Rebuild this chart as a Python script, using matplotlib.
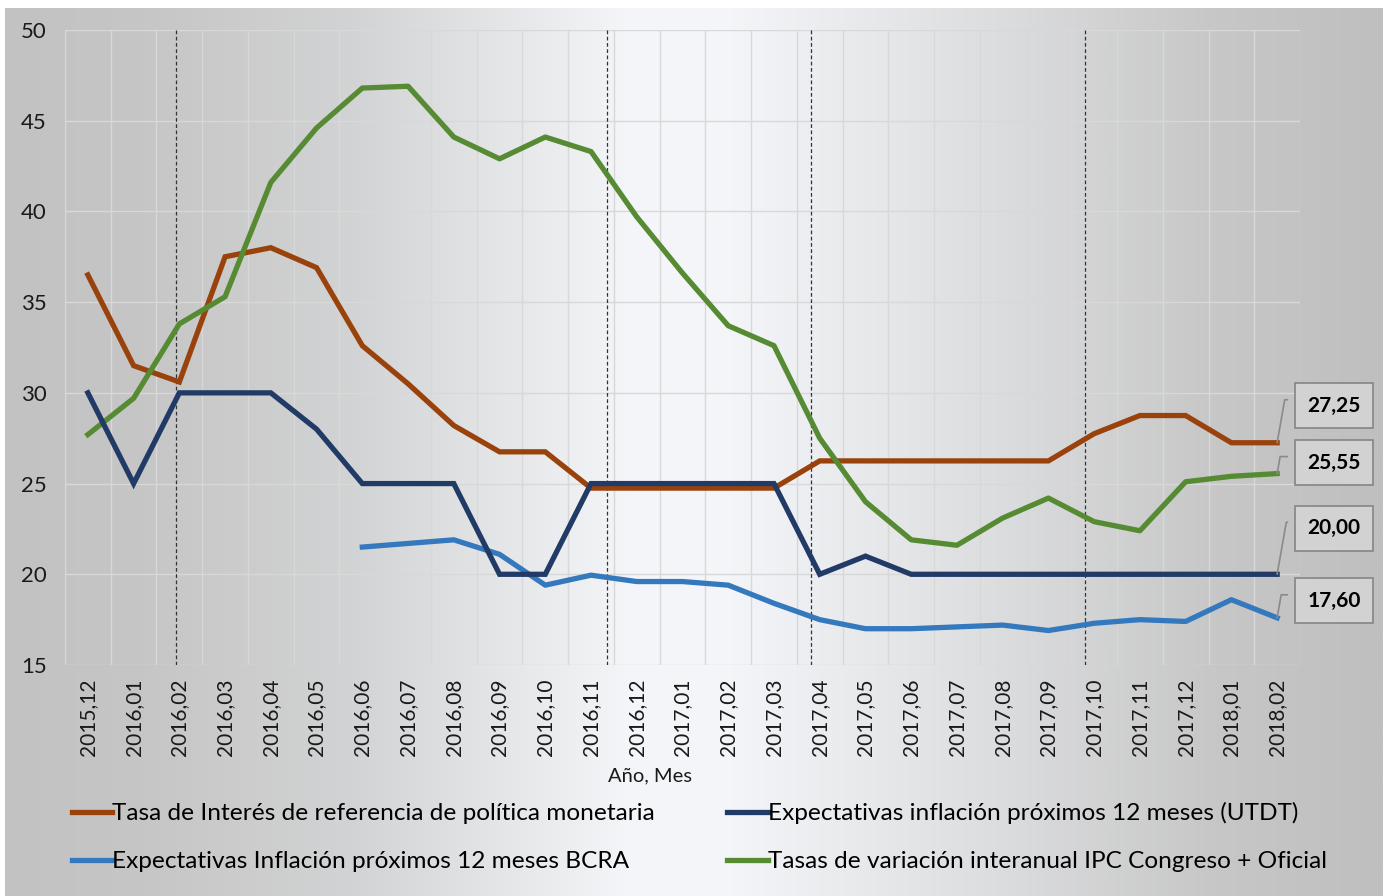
import numpy as np
import matplotlib
matplotlib.use("Agg")
import matplotlib.pyplot as plt
from matplotlib.colors import LinearSegmentedColormap

plt.rcParams["font.family"] = ["Lato", "DejaVu Sans"]

# =============================================================================
# DATA
# =============================================================================

meses = [
    "2015,12", "2016,01", "2016,02", "2016,03", "2016,04", "2016,05",
    "2016,06", "2016,07", "2016,08", "2016,09", "2016,10", "2016,11",
    "2016,12", "2017,01", "2017,02", "2017,03", "2017,04", "2017,05",
    "2017,06", "2017,07", "2017,08", "2017,09", "2017,10", "2017,11",
    "2017,12", "2018,01", "2018,02",
]

tasa_politica = [36.5, 31.5, 30.6, 37.5, 38.0, 36.9, 32.6, 30.5, 28.2, 26.75,
                 26.75, 24.75, 24.75, 24.75, 24.75, 24.75, 26.25, 26.25, 26.25,
                 26.25, 26.25, 26.25, 27.75, 28.75, 28.75, 27.25, 27.25]

expect_utdt = [30, 25, 30, 30, 30, 28, 25, 25, 25, 20, 20, 25, 25, 25, 25, 25,
               20, 21, 20, 20, 20, 20, 20, 20, 20, 20, 20]

expect_bcra = [np.nan] * 6 + [21.5, 21.7, 21.9, 21.1, 19.4, 19.95, 19.6, 19.6,
                              19.4, 18.4, 17.5, 17.0, 17.0, 17.1, 17.2, 16.9,
                              17.3, 17.5, 17.4, 18.6, 17.6]

ipc_interanual = [27.7, 29.7, 33.8, 35.3, 41.6, 44.6, 46.8, 46.9, 44.1, 42.9,
                  44.1, 43.3, 39.7, 36.6, 33.7, 32.6, 27.5, 24.0, 21.9, 21.6,
                  23.1, 24.2, 22.9, 22.4, 25.1, 25.4, 25.55]

# vertical dashed markers (position in category units)
cortes = [1.92, 11.36, 15.82, 21.81]

etiquetas = {
    "tasa": "Tasa de Interés de referencia de política monetaria",
    "utdt": "Expectativas inflación próximos 12 meses (UTDT)",
    "bcra": "Expectativas Inflación próximos 12 meses BCRA",
    "ipc": "Tasas de variación interanual IPC Congreso + Oficial",
}

COLORS = {
    "tasa": "#9a420c",
    "utdt": "#213a66",
    "bcra": "#3479be",
    "ipc": "#568a33",
    "grid": "#d8d8d8",
    "text": "#1a1a1a",
}

# =============================================================================
# FIGURE
# =============================================================================

W, H = 1383, 896
fig = plt.figure(figsize=(W / 100, H / 100), dpi=100)
fig.patch.set_facecolor("white")

# horizontal gradient background (gray edges, light centre)
bg = fig.add_axes([5 / W, 0, 1 - 5 / W, 1 - 8 / H], zorder=-10)
grad_cmap = LinearSegmentedColormap.from_list(
    "bg",
    [(0.0, "#c2c2c2"), (0.1, "#c6c6c6"), (0.25, "#d2d3d4"),
     (0.45, "#f3f5f8"), (0.52, "#f4f6f9"), (0.72, "#dcdddf"),
     (0.88, "#c7c7c7"), (1.0, "#bfbfbf")],
)
bg.imshow(np.linspace(0, 1, 512)[None, :], aspect="auto", cmap=grad_cmap,
          extent=(0, 1, 0, 1))
bg.set_axis_off()

ax = fig.add_axes([65 / W, 1 - 665 / H, (1300 - 65) / W, (665 - 30) / H])
ax.set_facecolor("none")

x = np.arange(len(meses))

l_tasa, = ax.plot(x, tasa_politica, color=COLORS["tasa"], lw=3.8,
                  solid_joinstyle="miter", label=etiquetas["tasa"], zorder=4)
l_utdt, = ax.plot(x, expect_utdt, color=COLORS["utdt"], lw=3.8,
                  solid_joinstyle="miter", label=etiquetas["utdt"], zorder=5)
l_bcra, = ax.plot(x, expect_bcra, color=COLORS["bcra"], lw=3.8,
                  label=etiquetas["bcra"], zorder=4)
l_ipc, = ax.plot(x, ipc_interanual, color=COLORS["ipc"], lw=3.8,
                 label=etiquetas["ipc"], zorder=4)

for c in cortes:
    ax.axvline(c, color="#333333", lw=0.9, ls=(0, (3, 2)), zorder=3)

# --- axes styling ---
ax.set_xlim(-0.5, len(meses) - 0.5)
ax.set_ylim(15, 50)
ax.set_yticks(range(15, 51, 5))
ax.set_xticks(x)
ax.set_xticklabels(meses, rotation=90, fontsize=15, color=COLORS["text"])
ax.set_xticks(np.arange(-0.5, len(meses)), minor=True)
ax.tick_params(axis="x", which="both", length=0, pad=10)
ax.tick_params(axis="y", length=0, pad=13, labelsize=16, labelcolor=COLORS["text"])
ax.grid(axis="y", color=COLORS["grid"], lw=1, zorder=1)
ax.grid(axis="x", which="minor", color=COLORS["grid"], lw=1, zorder=1)
ax.grid(axis="x", which="major", visible=False)
for s in ax.spines.values():
    s.set_visible(False)

ax.set_xlabel("Año, Mes", fontsize=14.5, color=COLORS["text"])
ax.xaxis.set_label_coords(0.474, -0.162)

# --- end-of-line value callouts ---
ultimo = len(meses) - 1
callouts = [
    (tasa_politica[-1], 37),
    (ipc_interanual[-1], 11),
    (expect_utdt[-1], 46),
    (expect_bcra[-1], 17),
]
for valor, dy in callouts:
    ax.annotate(
        f"{valor:.2f}".replace(".", ","),
        xy=(ultimo, valor), xytext=(57, dy), textcoords="offset pixels",
        ha="center", va="center", fontsize=15, fontweight="bold",
        color="black", annotation_clip=False,
        bbox=dict(boxstyle="square,pad=0.6", fc="#d2d2d2", ec="#858585", lw=1.2),
        arrowprops=dict(arrowstyle="-", color="#8a8a8a", lw=1.2,
                        relpos=(0, 0.8), shrinkA=5, shrinkB=0,
                        connectionstyle="angle,angleA=180,angleB=80,rad=0"),
        zorder=6,
    )

# --- legend (row 1: tasa, utdt; row 2: bcra, ipc) ---
fig.legend(
    handles=[l_tasa, l_bcra, l_utdt, l_ipc],
    loc="upper left", bbox_to_anchor=(72 / W, 1 - 802 / H),
    ncol=2, frameon=False, fontsize=17.6,
    handlelength=1.65, handletextpad=0.0, columnspacing=2.95,
    labelspacing=1.1, borderaxespad=0, borderpad=0,
)

fig.savefig("out.png", dpi=100, facecolor=fig.get_facecolor())
